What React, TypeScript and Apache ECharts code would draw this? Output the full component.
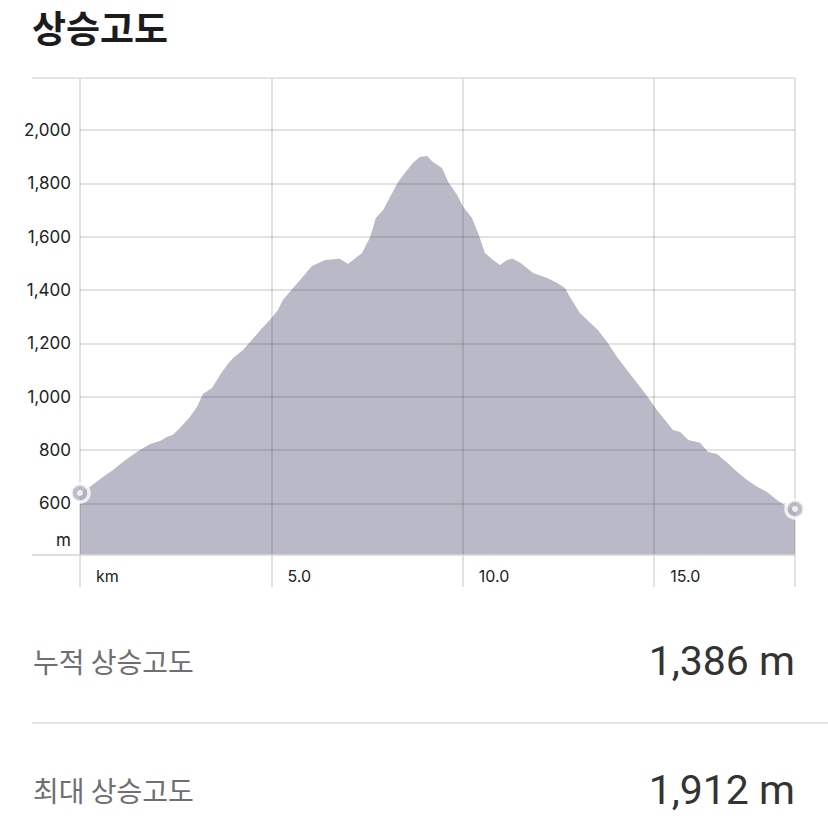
import React, { useEffect, useRef } from "react";
import * as echarts from "echarts";

const distanceKm = [
  0.0, 0.26, 0.6, 0.86, 1.12, 1.38, 1.57, 1.83, 2.09, 2.27, 2.43, 2.61, 2.87, 3.06, 3.21, 3.45,
  3.66, 3.84, 4.0, 4.26, 4.49, 4.76, 4.96, 5.17, 5.3, 5.75, 6.06, 6.4, 6.79, 7.0, 7.37, 7.58,
  7.73, 7.92, 8.1, 8.31, 8.55, 8.7, 8.88, 9.07, 9.22, 9.46, 9.62, 9.85, 10.01, 10.24, 10.4,
  10.58, 10.79, 10.97, 11.16, 11.31, 11.5, 11.84, 12.2, 12.46, 12.67, 12.8, 13.06, 13.33, 13.53,
  13.77, 14.03, 14.29, 14.55, 14.79, 15.07, 15.34, 15.49, 15.68, 15.89, 16.2, 16.41, 16.64,
  16.91, 17.17, 17.43, 17.69, 17.95, 18.21, 18.47, 18.68,
];
const elevationM = [
  639, 662, 699, 725, 755, 782, 800, 823, 834, 849, 857, 883, 924, 962, 1010, 1033,
  1082, 1119, 1145, 1175, 1213, 1258, 1288, 1325, 1363, 1438, 1490, 1513, 1517, 1498, 1539, 1599,
  1670, 1700, 1749, 1805, 1850, 1877, 1899, 1903, 1880, 1858, 1805, 1757, 1712, 1670, 1614,
  1539, 1513, 1494, 1513, 1517, 1502, 1464, 1445, 1427, 1408, 1374, 1314, 1277, 1250,
  1205, 1149, 1100, 1052, 1007, 950, 902, 875, 868, 838, 827, 793, 785,
  752, 718, 688, 662, 643, 613, 587, 579,
];
const yTickValues = [600, 800, 1000, 1200, 1400, 1600, 1800, 2000];
const xTickValues = [0, 5, 10, 15];
const xUnitLabel = "km";
const yUnitLabel = "m";
const titleText = "상승고도";
const statLabels = ["누적 상승고도", "최대 상승고도"];
const statValues = ["1,386 m", "1,912 m"];

const Y_MIN = 406.5;
const Y_MAX = 2195;
const X_MAX = distanceKm[distanceKm.length - 1];

export default function App() {
  const ref = useRef<HTMLDivElement>(null);
  useEffect(() => {
    if (!ref.current) return;
    const chart = echarts.init(ref.current, undefined, { renderer: "svg" });
    const gridColor = "rgba(60,60,70,0.2)";
    const data = distanceKm.map((d, i) => [d, elevationM[i]]);
    const ends = [data[0], data[data.length - 1]];
    const font = "Inter, 'Noto Sans', sans-serif";
    const cjk = "'Noto Sans CJK KR', 'Noto Sans', sans-serif";
    chart.setOption({
      animation: false,
      backgroundColor: "#ffffff",
      grid: { left: 80, right: 33, top: 78, bottom: 273, containLabel: false },
      xAxis: {
        type: "value",
        min: 0,
        max: X_MAX,
        interval: 5,
        z: 3,
        axisLine: { show: false },
        axisTick: { show: true, length: 32, lineStyle: { color: gridColor, width: 1.5 } },
        splitLine: { show: true, lineStyle: { color: gridColor, width: 1.5 } },
        axisLabel: {
          align: "left",
          padding: [0, 0, 0, 16],
          margin: 13,
          fontSize: 16,
          fontFamily: font,
          color: "#222",
          formatter: (v: number) => {
            if (v === 0) return xUnitLabel;
            if (xTickValues.indexOf(v) >= 0) return v.toFixed(1);
            return "";
          },
        },
      },
      yAxis: {
        type: "value",
        min: Y_MIN,
        max: Y_MAX,
        z: 3,
        axisLine: { show: false },
        axisTick: { show: false, customValues: yTickValues },
        splitLine: { show: true, lineStyle: { color: gridColor, width: 1.5 } },
        axisLabel: {
          customValues: yTickValues,
          margin: 9,
          fontSize: 17,
          fontFamily: font,
          color: "#222",
          formatter: (v: number) => v.toLocaleString("en-US"),
        },
      },
      series: [
        {
          type: "line",
          data,
          symbol: "none",
          lineStyle: { width: 0 },
          areaStyle: { color: "#b9b9c7", opacity: 1 },
          z: 2,
        },
        {
          type: "scatter",
          data: ends,
          symbol: "circle",
          symbolSize: 18,
          itemStyle: { color: "#aeaebb", borderColor: "#ffffff", borderWidth: 3.5 },
          z: 5,
        },
        {
          type: "scatter",
          data: ends,
          symbol: "circle",
          symbolSize: 6,
          itemStyle: { color: "#ffffff" },
          z: 6,
        },
      ],
      graphic: [
        {
          type: "text",
          z: 10,
          style: {
            text: titleText,
            x: 32,
            y: 27,
            fill: "#1c1c1e",
            fontSize: 37,
            fontWeight: "bold",
            fontFamily: cjk,
            textVerticalAlign: "middle",
          },
        },
        {
          type: "line",
          z: 10,
          shape: { x1: 32, y1: 78, x2: 795, y2: 78 },
          style: { stroke: "#dcdcde", lineWidth: 1.5 },
        },
        {
          type: "line",
          z: 10,
          shape: { x1: 32, y1: 555, x2: 795, y2: 555 },
          style: { stroke: "#d6d6da", lineWidth: 1.5 },
        },
        {
          type: "text",
          z: 10,
          style: {
            text: yUnitLabel,
            x: 71,
            y: 540,
            fill: "#222",
            fontSize: 17,
            fontFamily: font,
            textAlign: "right",
            textVerticalAlign: "middle",
          },
        },
        {
          type: "text",
          z: 10,
          style: {
            text: statLabels[0],
            x: 33,
            y: 661,
            fill: "#6e6e73",
            fontSize: 28,
            fontFamily: cjk,
            textVerticalAlign: "middle",
          },
        },
        {
          type: "text",
          z: 10,
          style: {
            text: statValues[0],
            x: 795,
            y: 661,
            fill: "#333333",
            fontSize: 41,
            fontFamily: "Roboto, sans-serif",
            textAlign: "right",
            textVerticalAlign: "middle",
          },
        },
        {
          type: "line",
          z: 10,
          shape: { x1: 32, y1: 723, x2: 828, y2: 723 },
          style: { stroke: "#e3e3e5", lineWidth: 2 },
        },
        {
          type: "text",
          z: 10,
          style: {
            text: statLabels[1],
            x: 33,
            y: 790,
            fill: "#6e6e73",
            fontSize: 28,
            fontFamily: cjk,
            textVerticalAlign: "middle",
          },
        },
        {
          type: "text",
          z: 10,
          style: {
            text: statValues[1],
            x: 795,
            y: 790,
            fill: "#333333",
            fontSize: 41,
            fontFamily: "Roboto, sans-serif",
            textAlign: "right",
            textVerticalAlign: "middle",
          },
        },
      ],
    });
    return () => chart.dispose();
  }, []);
  return (
    <div
      ref={ref}
      style={{ position: "fixed", left: 0, top: 0, width: 828, height: 828 }}
    />
  );
}
